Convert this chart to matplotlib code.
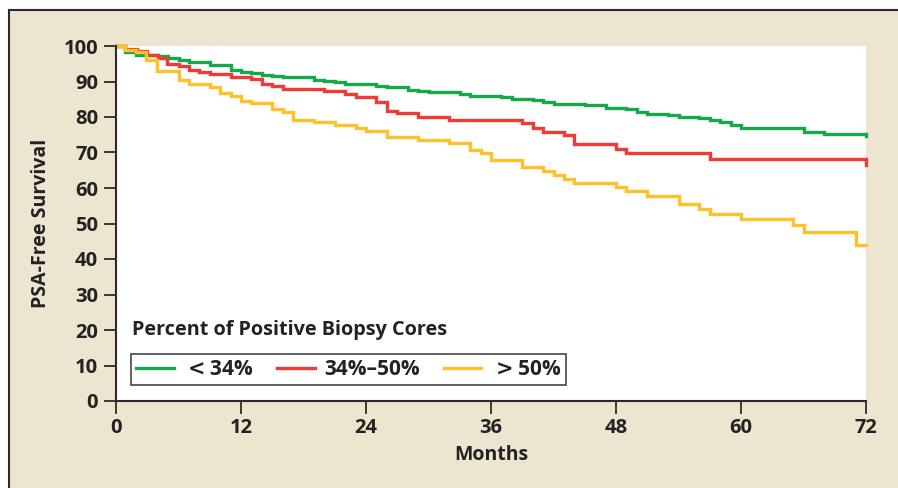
import matplotlib
import matplotlib.pyplot as plt
from matplotlib.lines import Line2D

plt.rcParams['font.family'] = ['Open Sans', 'DejaVu Sans']
plt.rcParams['font.weight'] = 'bold'
plt.rcParams['mathtext.fontset'] = 'dejavusans'

BG = '#ede5cf'
DARK = '#2b2b2b'
TXT = '#222222'

# Kaplan-Meier step data (months, % PSA-free)
t_low = [0, 0.9, 1.9, 4, 5, 6, 7, 9, 11, 12, 13, 14, 15, 16, 19, 20, 21, 22, 24, 25,
         26, 28, 29, 30, 33, 34, 37, 38, 40, 41, 42, 45, 47, 49, 50, 51, 53, 54, 56, 57,
         58, 59, 60, 66, 68, 72]
s_low = [100, 98.4, 97.6, 97.3, 96.7, 96.0, 95.6, 94.6, 93.3, 92.7, 92.5, 91.9, 91.5, 91.2,
         90.4, 90.1, 89.9, 89.4, 89.2, 88.8, 88.4, 87.7, 87.3, 87.0, 86.6, 86.0, 85.5, 85.2,
         84.8, 84.1, 83.7, 83.5, 82.6, 82.2, 81.4, 80.9, 80.6, 80.1, 79.6, 79.2, 78.6, 77.7,
         77.0, 75.9, 75.2, 74.7]

t_mid = [0, 0.9, 2, 3, 4, 4.9, 6, 7, 8, 9, 11, 13, 14, 15, 16, 20, 22, 23, 25, 26, 27, 29,
         32, 39, 40, 41, 43, 44, 48, 49, 57, 72]
s_mid = [100, 99.2, 98.6, 97.5, 96.5, 94.9, 94.3, 93.1, 92.6, 92.0, 91.4, 90.6, 89.4, 88.7,
         88.0, 87.3, 86.6, 85.7, 84.1, 81.8, 81.0, 80.1, 79.2, 78.2, 77.0, 75.9, 74.8, 72.5,
         71.1, 69.8, 68.3, 66.5]

t_high = [0, 0.9, 1.9, 2.9, 3.9, 6, 7, 9, 10, 11, 12, 13, 15, 16, 17, 19, 21, 23, 24, 26,
          29, 32, 34, 35, 36, 39, 41, 42, 43, 44, 48, 49, 51, 54, 56, 57, 60, 65, 66, 71, 72]
s_high = [100, 98.9, 98.2, 96.1, 93.0, 90.4, 89.3, 88.5, 86.7, 85.9, 84.5, 83.9, 82.2, 81.5,
          79.2, 78.5, 77.7, 76.8, 76.1, 74.3, 73.4, 72.6, 70.6, 69.8, 67.9, 65.8, 64.9, 63.6,
          62.6, 61.5, 60.2, 59.2, 57.8, 55.4, 54.0, 52.6, 51.2, 49.5, 47.6, 43.9, 43.9]

labels = [r'$<$34%', '34%\u201350%', r'$>$50%']
colors = ['#17a84b', '#ee3b35', '#fec12a']

fig = plt.figure(figsize=(8.98, 4.88), dpi=100)
fig.patch.set_facecolor('white')
# beige panel with border on top and left
fig.patches.append(matplotlib.patches.Rectangle((9 / 898, 0), 1, 1 - 10 / 488,
                   transform=fig.transFigure, facecolor=BG, edgecolor='none', zorder=-10))
fig.add_artist(Line2D([9 / 898, 1], [1 - 10 / 488] * 2, color=DARK, lw=1.5,
                      transform=fig.transFigure, zorder=-5))
fig.add_artist(Line2D([9 / 898] * 2, [0, 1 - 10 / 488], color=DARK, lw=1.5,
                      transform=fig.transFigure, zorder=-5))

ax = fig.add_axes([116 / 898, 1 - 401 / 488, 750 / 898, 355 / 488])
ax.set_facecolor('white')

for t, s, c, lab in zip([t_low, t_mid, t_high], [s_low, s_mid, s_high], colors, labels):
    ax.step(t, s, where='post', color=c, lw=2.4, label=lab, solid_joinstyle='miter',
            clip_on=False)

ax.set_xlim(0, 72)
ax.set_ylim(0, 100)
ax.set_xticks(range(0, 73, 12))
ax.set_yticks(range(0, 101, 10))
for sp in ['top', 'right']:
    ax.spines[sp].set_visible(False)
for sp in ['left', 'bottom']:
    ax.spines[sp].set_color(DARK)
    ax.spines[sp].set_linewidth(1.5)
ax.tick_params(direction='out', length=9, width=1.3, color=DARK, labelsize=14.5,
               labelcolor=TXT, pad=4)
ax.tick_params(axis='x', pad=3)

ax.set_xlabel('Months', fontsize=14, fontweight='bold', color=TXT, labelpad=5)
ax.set_ylabel('PSA-Free Survival', fontsize=14, fontweight='bold', color=TXT,
              labelpad=9)

ax.text(0.022, 0.2, 'Percent of Positive Biopsy Cores', transform=ax.transAxes,
        fontsize=14.3, fontweight='bold', color=TXT, va='center', ha='left')
leg = ax.legend(loc='lower left', bbox_to_anchor=(0.02, 0.045), ncol=3, fontsize=15,
                frameon=True, fancybox=False, edgecolor=DARK, borderaxespad=0,
                handlelength=1.8, handletextpad=0.45, columnspacing=1.15, borderpad=0.25)
leg.get_frame().set_linewidth(1.3)
for txt in leg.get_texts():
    txt.set_color(TXT)

fig.savefig('out.png', dpi=100)
